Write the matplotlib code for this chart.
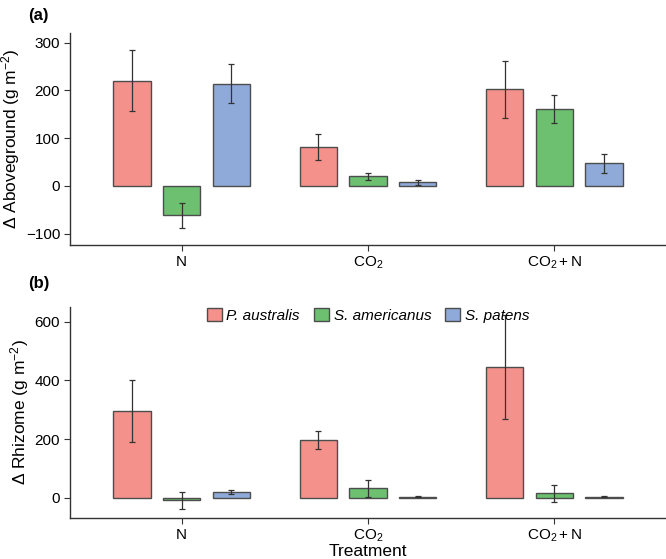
import numpy as np
import matplotlib
matplotlib.use("Agg")
import matplotlib.pyplot as plt
from matplotlib.patches import Patch

plt.rcParams['font.family'] = ['Liberation Sans', 'DejaVu Sans']
plt.rcParams['mathtext.fontset'] = 'custom'
plt.rcParams['mathtext.rm'] = 'Liberation Sans'
plt.rcParams['mathtext.it'] = 'Liberation Sans:italic'
plt.rcParams['mathtext.default'] = 'regular'

treatments = ['N', 'CO$_2$', 'CO$_2+$N']
species = ['P. australis', 'S. americanus', 'S. patens']
colors = ['#F4918A', '#6CC06F', '#8FAAD9']

# aboveground: mean, lower, upper per species (rows) x treatment (cols)
above_mean = [[220, 82, 202], [-61, 20, 161], [214, 7, 47]]
above_lo = [[157, 55, 143], [-88, 12, 131], [173, 2, 27]]
above_hi = [[285, 108, 261], [-35, 27, 191], [255, 13, 66]]

# rhizome
rhiz_mean = [[295, 197, 445], [-8, 32, 15], [20, 3, 4]]
rhiz_lo = [[190, 167, 270], [-37, 3, -16], [12, 1, 2]]
rhiz_hi = [[402, 227, 622], [20, 60, 45], [27, 5, 6]]

fig = plt.figure(figsize=(6.66, 5.59), dpi=100)
ax1 = fig.add_axes([0.105, 0.5617, 0.895, 0.3793])
ax2 = fig.add_axes([0.105, 0.0733, 0.895, 0.378])

x = np.arange(len(treatments))
width = 0.2
offsets = [-0.267, 0, 0.267]


def draw(ax, mean, lo, hi):
    for i in range(3):
        m = np.array(mean[i])
        err = np.array([m - np.array(lo[i]), np.array(hi[i]) - m])
        ax.bar(x + offsets[i], m, width, color=colors[i], edgecolor='#4d4d4d',
               linewidth=1.0, zorder=2)
        ax.errorbar(x + offsets[i], m, yerr=err, fmt='none', ecolor='#333333',
                    elinewidth=0.9, capsize=2.5, capthick=0.9, zorder=3)
    ax.set_xlim(-0.6, 2.6)
    ax.set_xticks(x)
    ax.set_xticklabels(treatments)
    for s in ['top', 'right']:
        ax.spines[s].set_visible(False)
    for s in ['left', 'bottom']:
        ax.spines[s].set_color('#333333')
        ax.spines[s].set_linewidth(1.0)
    ax.tick_params(axis='both', colors='#333333', labelcolor='black',
                   labelsize=11, length=4, width=0.8, pad=3)


draw(ax1, above_mean, above_lo, above_hi)
ax1.set_ylim(-124, 320)
ax1.set_yticks([-100, 0, 100, 200, 300])
ax1.set_yticklabels(['\u2212100', '0', '100', '200', '300'])
ax1.set_ylabel('\u0394 Aboveground (g m$^{-2}$)', fontsize=12.5, labelpad=3)

draw(ax2, rhiz_mean, rhiz_lo, rhiz_hi)
ax2.set_ylim(-69, 651)
ax2.set_yticks([0, 200, 400, 600])
ax2.set_ylabel('\u0394 Rhizome (g m$^{-2}$)', fontsize=12.5, labelpad=3)
ax2.set_xlabel('Treatment', fontsize=12.5, labelpad=0)

handles = [Patch(facecolor=colors[i], edgecolor='#4d4d4d', label=species[i]) for i in range(3)]
leg = ax2.legend(handles=handles, loc='upper center', bbox_to_anchor=(0.5, 1.06),
                 ncol=3, frameon=False, handlelength=1.0,
                 handleheight=1.0, handletextpad=0.3, columnspacing=0.9,
                 prop={'style': 'italic', 'size': 11})

fig.text(0.042, 0.972, '(a)', fontsize=12, fontweight='bold', va='center')
fig.text(0.042, 0.493, '(b)', fontsize=12, fontweight='bold', va='center')

fig.savefig('out.png', dpi=100)
